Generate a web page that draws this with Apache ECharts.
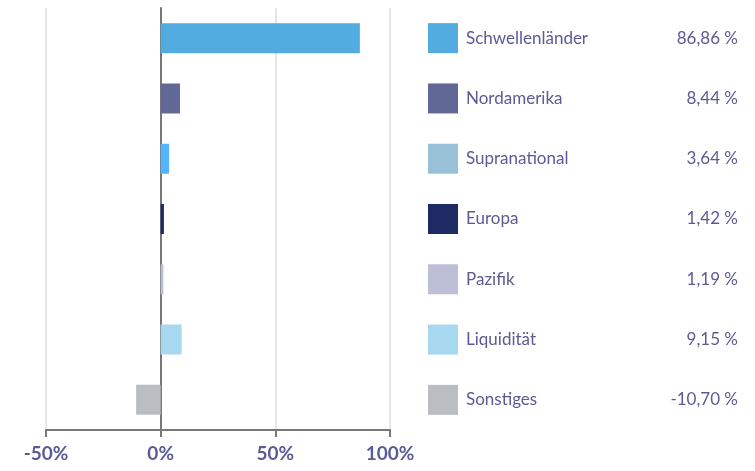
<!DOCTYPE html>
<html>
<head>
<meta charset="utf-8">
<script src="https://cdn.jsdelivr.net/npm/echarts@6/dist/echarts.min.js"></script>
<style>html,body{margin:0;padding:0;background:#fff}#c{width:755px;height:471px}</style>
</head>
<body>
<div id="c"></div>
<script>
const categories = ["Schwellenländer","Nordamerika","Supranational","Europa","Pazifik","Liquidität","Sonstiges"];
const values = [86.86, 8.44, 3.64, 1.42, 1.19, 9.15, -10.70];
const valueLabels = ["86,86 %","8,44 %","3,64 %","1,42 %","1,19 %","9,15 %","-10,70 %"];
const barColors = ["#52acdf","#626896","#55b4ff","#1e2a64","#bcbfd6","#a8d8f0","#babdc1"];
const legendColors = ["#52acdf","#626896","#98c0d6","#1e2a64","#bcbfd6","#a8d8f0","#babdc1"];
const xTicks = [-50, 0, 50, 100];

const textColor = "#5a5b96";
const font = "Lato, 'Noto Sans', sans-serif";

const chart = echarts.init(document.getElementById('c'), null, {renderer: 'canvas'});
chart.setOption({
  animation: false,
  textStyle: {fontFamily: font},
  grid: [
    {left: 46, right: 365, top: 8, bottom: 41},
    {left: 443, width: 300, top: 8, bottom: 41}
  ],
  xAxis: [
    {
      gridIndex: 0, type: 'value', z: 0,
      min: xTicks[0], max: xTicks[xTicks.length - 1], interval: 50,
      axisLine: {show: true, onZero: false, lineStyle: {color: '#777', width: 2}},
      axisTick: {show: true, length: 7, lineStyle: {color: '#777', width: 2}},
      splitLine: {show: true, lineStyle: {color: '#e6e6e6', width: 2}},
      axisLabel: {color: textColor, fontSize: 19, fontWeight: 'bold', margin: 14, fontFamily: font,
        formatter: v => v + '%'}
    },
    {gridIndex: 1, type: 'value', min: 0, max: 1, show: false}
  ],
  yAxis: [
    {
      gridIndex: 0, type: 'category', data: categories, inverse: true, z: 0,
      axisLine: {show: true, onZero: true, lineStyle: {color: '#777', width: 2}},
      axisTick: {show: false}, axisLabel: {show: false}, splitLine: {show: false}
    },
    {gridIndex: 1, type: 'category', data: categories, inverse: true, show: false}
  ],
  series: [
    {
      type: 'bar', xAxisIndex: 0, yAxisIndex: 0, barWidth: 30, z: 10,
      data: values.map((v, i) => ({value: v, itemStyle: {color: barColors[i], borderColor: barColors[i], borderWidth: 2}}))
    },
    {
      type: 'scatter', xAxisIndex: 1, yAxisIndex: 1, symbol: 'rect', symbolSize: 30,
      itemStyle: {opacity: 1},
      data: categories.map((c, i) => ({value: [0, c], itemStyle: {color: legendColors[i], opacity: 1}})),
      label: {
        show: true, position: 'right', distance: 8,
        formatter: p => '{n|' + categories[p.dataIndex] + '}{v|' + valueLabels[p.dataIndex] + '}',
        rich: {
          n: {width: 200, align: 'left', color: textColor, fontSize: 17, fontFamily: font},
          v: {width: 72, align: 'right', color: textColor, fontSize: 17, fontFamily: font}
        }
      }
    }
  ]
});
</script>
</body>
</html>
